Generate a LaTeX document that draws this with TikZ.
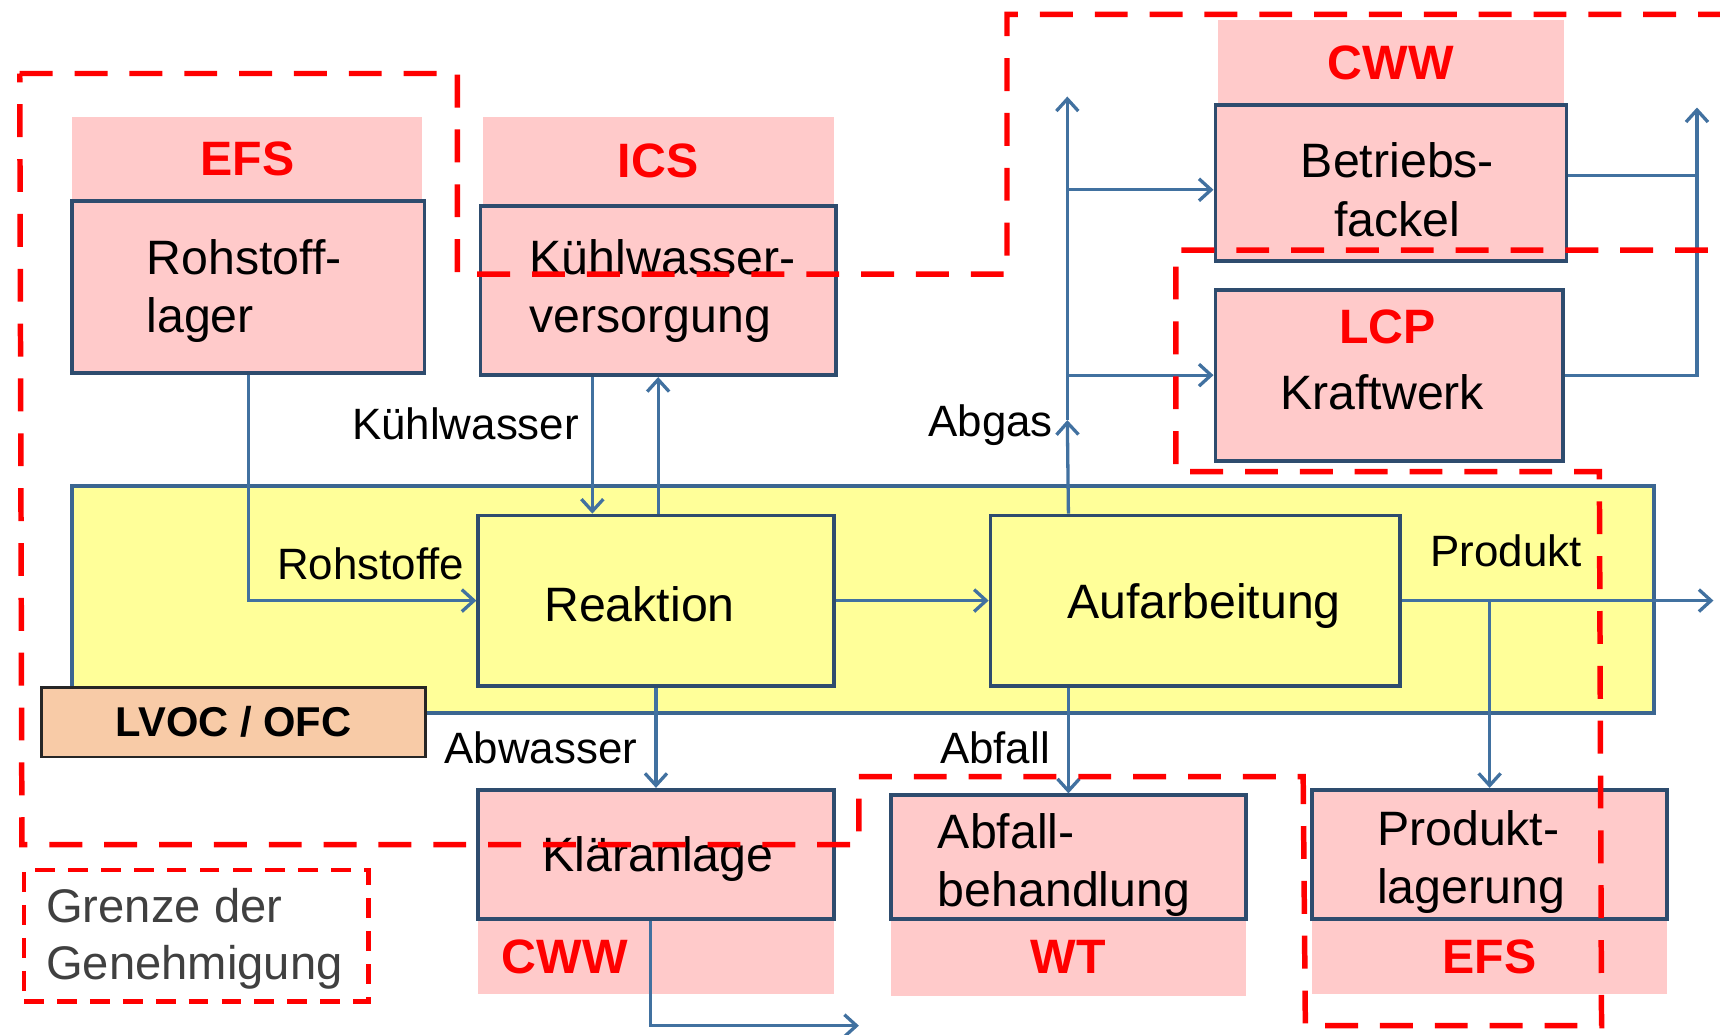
\documentclass[tikz,border=0pt]{standalone}
\usepackage{fontspec}
\setmainfont{Liberation Sans}
\usetikzlibrary{arrows.meta}
\definecolor{pinkbg}{RGB}{255,202,202}
\definecolor{yel}{RGB}{255,255,153}
\definecolor{peach}{RGB}{248,203,167}
\definecolor{boxline}{RGB}{46,76,110}
\definecolor{flowblue}{RGB}{65,113,160}
\definecolor{bred}{RGB}{255,0,0}
\definecolor{legendgray}{RGB}{64,64,64}
\tikzset{
  boxtext/.style={font=\fontsize{44}{53}\selectfont, inner sep=0pt},
  lbl/.style={font=\fontsize{40}{48}\selectfont, inner sep=0pt},
  hdr/.style={fill=pinkbg, draw=none, inner sep=0pt, font=\fontsize{44}{52}\selectfont\bfseries, text=bred},
  pbox/.style={fill=pinkbg, draw=boxline, line width=3.5pt, inner sep=0pt},
  ybox/.style={fill=yel, draw=boxline, line width=3.5pt, inner sep=0pt},
  bigbox/.style={fill=yel, draw=flowblue!70!boxline, line width=3.5pt, inner sep=0pt},
  flow/.style={draw=flowblue, line width=3pt, -{Straight Barb[length=11pt,width=20pt,line width=3pt]}},
  plain/.style={draw=flowblue, line width=3pt},
  border/.style={draw=bred, line width=5pt, dash pattern=on 30pt off 20pt},
  legendbox/.style={draw=bred, line width=4pt, dash pattern=on 18pt off 12pt},
  legendtext/.style={inner sep=0pt, align=left, text=legendgray, font=\fontsize{43}{52}\selectfont},
}
\begin{document}
\begin{tikzpicture}[x=1pt,y=-1pt]
\clip (0,0) rectangle (1568,943);
\fill[white] (0,0) rectangle (1568,943);

% headers and footers
\node[hdr, minimum width=319pt, minimum height=76pt] (hEFS) at (225.5,145) {EFS};
\node[hdr, minimum width=320pt, minimum height=81pt] (hICS) at (600,147.5) {\raisebox{2pt}{ICS}};
\node[hdr, minimum width=316pt, minimum height=78pt] (hCWW) at (1268,57) {CWW};
\node[hdr, minimum width=324pt, minimum height=68pt] (fCWW) at (598,872) {CWW\hspace*{166pt}};
\node[hdr, minimum width=324pt, minimum height=70pt] (fWT) at (974,873) {\raisebox{2pt}{WT}};
\node[hdr, minimum width=324pt, minimum height=68pt] (fEFS) at (1358,872) {EFS};

% pink boxes
\node[pbox, minimum width=321pt, minimum height=157pt] (rohstoff) at (226.5,261.5) {};
\node[boxtext, align=left] (tRoh) at ([xshift=-4pt,yshift=-4pt]rohstoff.center) {Rohstoff-\\lager};
\node[pbox, minimum width=324pt, minimum height=154pt] (kuehl) at (600,265) {};
\node[boxtext, align=left] (tKuehl) at ([xshift=4pt]kuehl.center) {Kühlwasser-\\versorgung};
\node[pbox, minimum width=320pt, minimum height=142pt] (fackel) at (1268,167) {};
\node[boxtext, align=center] (tFackel) at ([xshift=6pt,yshift=-6pt]fackel.center) {Betriebs-\\fackel};
\node[pbox, minimum width=317pt, minimum height=156pt] (kraft) at (1266.5,342) {};
\node[hdr, fill=none] (lcp) at (1265,298) {LCP};
\node[boxtext] (tKraft) at (1260,358) {Kraftwerk};
\node[pbox, minimum width=324pt, minimum height=118pt] (klaer) at (598,779) {};
\node[boxtext] (tKlaer) at ([xshift=2pt,yshift=-4pt]klaer.center) {Kläranlage};
\node[pbox, minimum width=324pt, minimum height=113pt] (abfall) at (974,781.5) {};
\node[boxtext, align=left] (tAbfall) at ([xshift=-4pt,yshift=-7pt]abfall.center) {Abfall-\\behandlung};
\node[pbox, minimum width=324pt, minimum height=118pt] (prodlag) at (1358,779) {};
\node[boxtext, align=left] (tProdlag) at ([xshift=-17pt,yshift=-7pt]prodlag.center) {Produkt-\\lagerung};

% process area
\node[bigbox, minimum width=1442pt, minimum height=207pt] (plant) at (787,546.5) {};
\node[ybox, minimum width=324pt, minimum height=155pt] (reaktion) at (598,547.5) {};
\node[boxtext] (tReak) at ([xshift=-15pt,yshift=-3pt]reaktion.center) {Reaktion};
\node[ybox, minimum width=373pt, minimum height=155pt] (aufarb) at (1089.5,547.5) {};
\node[boxtext] (tAuf) at ([xshift=8pt,yshift=-5pt]aufarb.center) {Aufarbeitung};
\node[fill=peach, draw=black!85, line width=2.5pt, minimum width=350pt, minimum height=63pt, inner sep=0pt,
      font=\fontsize{38}{44}\selectfont\bfseries] (lvoc) at (213,658.5) {\raisebox{2pt}{LVOC / OFC}};

% free ends
\coordinate (abgasTop) at (973,88);
\coordinate (abgasMid) at (973,383);
\coordinate (flareOut) at (1547,98);
\coordinate (prodOut) at (1562,547.5);
\coordinate (waterOut) at (783,935);

% connectors
\draw[flow] (rohstoff.south) |- (reaktion.west);
\draw[flow] ([xshift=-60pt]kuehl.south) -- ([xshift=-60pt]kuehl.south |- reaktion.north);
\draw[flow] (reaktion.north -| kuehl.south) -- (kuehl.south);
\draw[flow] (reaktion.east) -- (aufarb.west);
\draw[flow] (reaktion.south) -- (klaer.north);
\draw[flow] ([xshift=-5pt]klaer.south) |- (waterOut);
\draw[flow] (aufarb.north -| abfall.north) -- (abgasMid);
\draw[flow] (abgasMid) -- (abgasTop);
\draw[flow] ([yshift=-6pt]fackel.west -| abgasTop) -- ([yshift=-6pt]fackel.west);
\draw[flow] (kraft.west -| abgasTop) -- (kraft.west);
\draw[plain] ([yshift=7pt]fackel.east) -- ([yshift=7pt]fackel.east -| flareOut);
\draw[flow] (kraft.east) -- (kraft.east -| flareOut) -- (flareOut);
\draw[flow] (aufarb.east) -- (prodOut);
\draw[flow] (aufarb.east -| prodlag.north) -- (prodlag.north);
\draw[flow] (aufarb.south -| abfall.north) -- (abfall.north);

% labels
\node[lbl] (lRoh) at (338,514) {Rohstoffe};
\node[lbl, anchor=east] (lKuehl) at (528,386) {Kühlwasser};
\node[lbl, anchor=east] (lAbgas) at (960,388) {Abgas};
\node[lbl] (lAbw) at (493,682) {Abwasser};
\node[lbl] (lAbf) at (907,682) {Abfall};
\node[lbl] (lProd) at (1373,502) {Produkt};

% legend
\node[legendbox, minimum width=314pt, minimum height=120pt, inner sep=0pt] (legend) at (179,853) {};
\node[legendtext, anchor=west] (legendText) at (42,856) {Grenze der\\Genehmigung};

% permit boundary
\draw[border] (18,67) -- (417,67) -- (417,250) -- (918,250) -- (918,13) -- (1620,13) -- (1620,228)
  -- (1072,228) -- (1072,430) -- (1458,430) -- (1460,935) -- (1190,935) -- (1188,708)
  -- (783,708) -- (783,770) -- (20,770) -- cycle;
\end{tikzpicture}
\end{document}
